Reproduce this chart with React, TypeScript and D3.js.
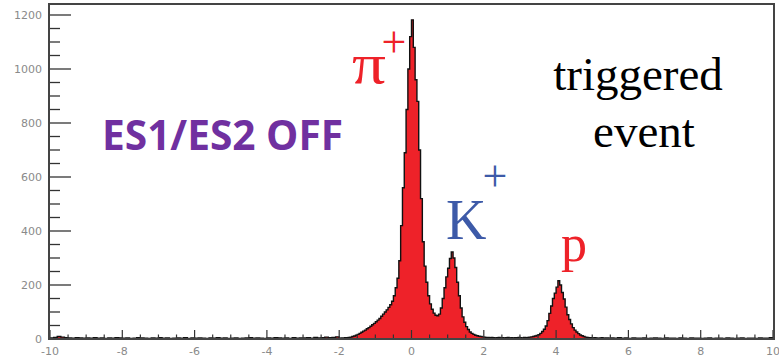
import React from "react";
import * as d3 from "d3";

// Background counts, -10 .. -2, bin width 0.1
const bgLeft = [
  4, 6, 9, 7, 5, 4, 3, 5, 4, 3, 4, 3, 5, 3, 4, 2, 4, 3, 5, 4,
  3, 4, 2, 3, 5, 4, 3, 2, 4, 3, 5, 3, 4, 2, 3, 4, 3, 5, 2, 4,
  3, 4, 3, 2, 4, 3, 5, 3, 4, 2, 3, 4, 2, 3, 4, 5, 3, 4, 3, 2,
  4, 3, 5, 4, 3, 4, 2, 5, 3, 4, 4, 5, 3, 6, 4, 5, 7, 5, 6, 8,
];
// Peak region, -2 .. 5.5, bin width 0.05
const peakRegion = [
  3, 4, 4, 5, 5, 6, 7, 9, 11, 14,
  17, 21, 25, 29, 33, 38, 42, 47, 53, 58,
  64, 70, 76, 84, 92, 100, 108, 117, 127, 140,
  160, 190, 225, 290, 420, 560, 690, 850, 1000, 1120,
  1182, 1080, 960, 880, 700, 520, 360, 270, 210, 160,
  130, 110, 96, 88, 86, 92, 115, 150, 190, 230,
  262, 298, 322, 300, 265, 210, 160, 115, 82, 62,
  46, 35, 26, 21, 17, 14, 12, 10, 9, 8,
  7, 6, 6, 5, 6, 5, 4, 5, 6, 4,
  5, 4, 5, 6, 4, 5, 4, 5, 5, 6,
  5, 4, 6, 5, 6, 7, 8, 9, 11, 13,
  16, 21, 28, 36, 48, 68, 95, 122, 150, 170,
  192, 216, 200, 172, 148, 118, 90, 72, 56, 42,
  33, 26, 20, 15, 12, 9, 7, 6, 5, 5,
  4, 5, 4, 3, 4, 5, 3, 4, 4, 3,
];
// Background counts, 5.5 .. 10, bin width 0.1
const bgRight = [
  4, 3, 5, 3, 4, 2, 4, 3, 3, 4, 2, 3, 4, 3, 2, 4, 3, 3, 2, 4,
  3, 2, 4, 3, 3, 2, 3, 4, 2, 3, 3, 2, 4, 3, 2, 3, 4, 2, 3, 3,
  2, 4, 3, 3, 5,
];

const xTickValues = [-10, -8, -6, -4, -2, 0, 2, 4, 6, 8, 10];
const yTickValues = [0, 200, 400, 600, 800, 1000, 1200];

type Bin = { x0: number; x1: number; v: number };

function makeBins(): Bin[] {
  const bins: Bin[] = [];
  bgLeft.forEach((v, i) => bins.push({ x0: -10 + i * 0.1, x1: -10 + (i + 1) * 0.1, v }));
  peakRegion.forEach((v, i) => bins.push({ x0: -2 + i * 0.05, x1: -2 + (i + 1) * 0.05, v }));
  bgRight.forEach((v, i) => bins.push({ x0: 5.5 + i * 0.1, x1: 5.5 + (i + 1) * 0.1, v }));
  return bins;
}

export default function App() {
  const W = 779;
  const H = 361;
  const x = d3.scaleLinear().domain([-10, 10]).range([50, 773]);
  const y = d3.scaleLinear().domain([0, 1200]).range([339, 15]);
  const bins = makeBins();

  const pts: [number, number][] = [[x(-10), y(0)]];
  bins.forEach((b) => {
    pts.push([x(b.x0), y(b.v)]);
    pts.push([x(b.x1), y(b.v)]);
  });
  pts.push([x(10), y(0)]);
  const path = d3.line()(pts) as string;

  const xMinor = d3.range(-10, 10.001, 0.5);
  const yMinor = d3.range(0, 1200.001, 50);
  const left = x(-10) - 1;
  const right = x(10) + 1;
  const top = 4;
  const bottom = y(0);

  const tickFont = "DejaVu Sans";
  const tickColor = "#8a8a8a";
  const serif = "Liberation Serif";

  return (
    <svg width={W} height={H} style={{ position: "absolute", left: 0, top: 0, background: "#fff" }}>
      <path d={path} fill="#ee2229" stroke="#111" strokeWidth={1.4} strokeLinejoin="miter" />

      {/* x ticks */}
      {xMinor.map((v, i) => {
        const major = Math.abs(v / 2 - Math.round(v / 2)) < 1e-6;
        return (
          <line key={"xt" + i} x1={x(v)} x2={x(v)} y1={bottom} y2={bottom - (major ? 9 : 4.5)} stroke="#333" strokeWidth={1.2} />
        );
      })}
      {/* y ticks */}
      {yMinor.map((v, i) => {
        const major = Math.abs(v / 200 - Math.round(v / 200)) < 1e-6;
        return (
          <line key={"yt" + i} x1={left} x2={left + (major ? 22 : 11)} y1={y(v)} y2={y(v)} stroke="#333" strokeWidth={1.3} />
        );
      })}

      {/* frame */}
      <rect x={left} y={top} width={right - left} height={bottom - top} fill="none" stroke="#444" strokeWidth={2} />

      {/* tick labels */}
      {yTickValues.map((v) => (
        <text key={"yl" + v} x={42} y={y(v)} dy="0.36em" textAnchor="end" fontFamily={tickFont} fontSize={11} fill={tickColor}>
          {v}
        </text>
      ))}
      {xTickValues.map((v) => (
        <text key={"xl" + v} x={x(v)} y={351} dy="0.36em" textAnchor="middle" fontFamily={tickFont} fontSize={11} fill={tickColor}>
          {v}
        </text>
      ))}

      {/* annotations */}
      <text x={102} y={150} fontFamily="Open Sans" fontWeight={700} fontSize={42} fill="#7030a0" textLength={241} lengthAdjust="spacingAndGlyphs">
        ES1/ES2 OFF
      </text>
      <text x={638} y={90} textAnchor="middle" fontFamily={serif} fontSize={47} fill="#000">
        triggered
      </text>
      <text x={644} y={147} textAnchor="middle" fontFamily={serif} fontSize={47} fill="#000">
        event
      </text>

      <text x={352} y={83} fontFamily={serif} fontSize={56} fill="#ee2229" textLength={34} lengthAdjust="spacingAndGlyphs">π</text>
      <text x={394} y={57} textAnchor="middle" fontFamily={serif} fontSize={44} fill="#ee2229">+</text>

      <text x={446} y={239} fontFamily={serif} fontSize={56} fill="#3d5aa8">K</text>
      <text x={495} y={191} textAnchor="middle" fontFamily={serif} fontSize={44} fill="#3d5aa8">+</text>

      <text x={561} y={261} fontFamily={serif} fontSize={52} fill="#ee2229">p</text>
    </svg>
  );
}
